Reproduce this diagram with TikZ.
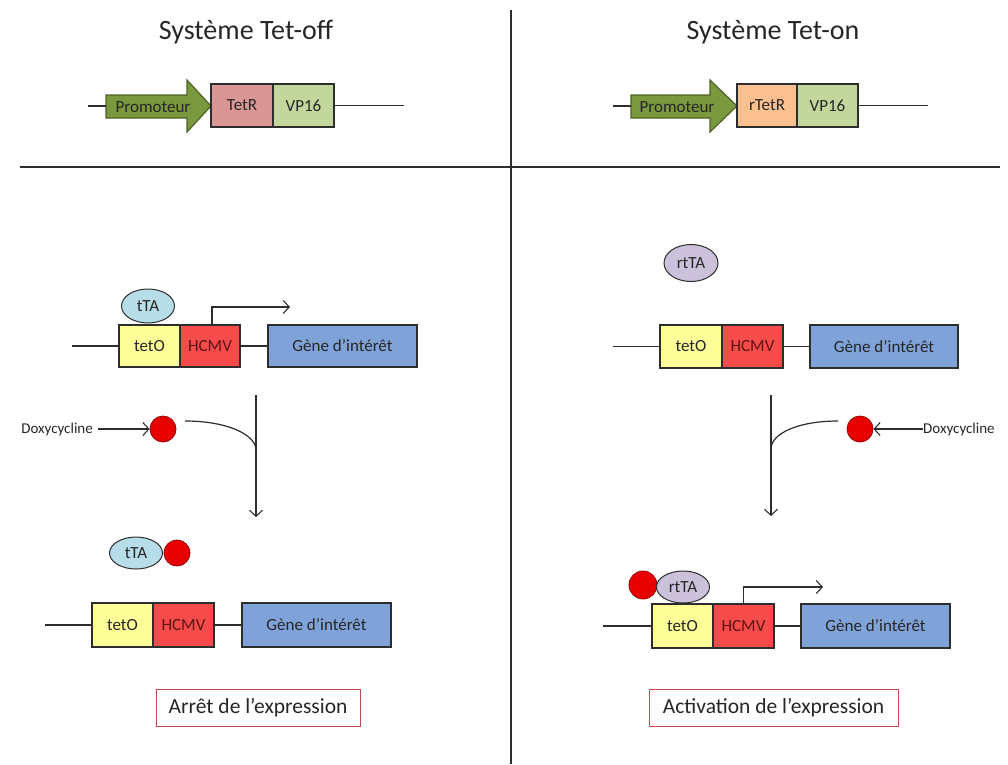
\documentclass[tikz,border=0pt]{standalone}
\usepackage{fontspec}
\setmainfont{Carlito}
\usetikzlibrary{arrows.meta,shapes.geometric}
\definecolor{promofill}{RGB}{122,152,62}
\definecolor{promodraw}{RGB}{79,98,40}
\definecolor{tetrc}{RGB}{217,150,148}
\definecolor{rtetrc}{RGB}{250,192,144}
\definecolor{vpc}{RGB}{195,214,155}
\definecolor{tetoc}{RGB}{255,255,153}
\definecolor{hcmvc}{RGB}{245,75,75}
\definecolor{genec}{RGB}{127,163,216}
\definecolor{ttac}{RGB}{183,221,232}
\definecolor{rttac}{RGB}{204,193,218}
\definecolor{doxfill}{RGB}{232,0,0}
\definecolor{doxdraw}{RGB}{150,0,0}
\definecolor{resc}{RGB}{192,80,77}
\definecolor{edge}{RGB}{45,45,45}
\definecolor{txt}{RGB}{38,38,38}
\definecolor{hcmvtxt}{RGB}{95,20,20}
\begin{document}
\begin{tikzpicture}[x=1pt,y=-1pt,
  seg/.style={draw=edge, line width=1.3pt, minimum height=43, inner sep=0pt, outer sep=0pt,
    font=\fontsize{17}{20}\selectfont, text=txt, anchor=north west},
  ln/.style={draw=edge, line width=1.2pt},
  arr/.style={ln, -{Straight Barb[length=6pt,width=13pt,line width=1.1pt]}},
  prot/.style={ellipse, draw=edge, line width=1pt, inner sep=0pt, minimum width=53, minimum height=33,
    font=\fontsize{17}{20}\selectfont, text=txt},
  doxo/.style={circle, draw=doxdraw, fill=doxfill, line width=0.8pt, minimum size=26, inner sep=0pt},
  result/.style={draw=resc, line width=1pt, minimum height=37, inner sep=0pt,
    font=\fontsize{21.5}{25}\selectfont, text=txt},
  titletxt/.style={font=\fontsize{28}{33}\selectfont, text=txt},
  small/.style={font=\fontsize{15}{18}\selectfont, text=txt, inner sep=0pt},
  promo/.style={draw=promodraw, fill=promofill, line width=1.2pt, line join=miter}
]
\useasboundingbox (0,0) rectangle (1008,764);

% dividers
\coordinate (vtop) at (511,10);
\coordinate (vbot) at (511,764);
\coordinate (hl) at (20,167);
\coordinate (hr) at (1000,167);
\draw[ln, line width=1.3pt] (vtop) -- (vbot);
\draw[ln, line width=1.3pt] (hl) -- (hr);

% titles
\node[titletxt] (titleL) at (246,32) {Système Tet-off};
\node[titletxt] (titleR) at (773,32) {Système Tet-on};

% ===== top left construct
\draw[promo] (106,95) -- (187,95) -- (187,80) -- (211,106) -- (187,132) -- (187,118) -- (106,118) -- cycle;
\coordinate (promAback) at (106,106);
\node[small, font=\fontsize{17}{20}\selectfont] (promA) at (153,107) {Promoteur};
\node[seg, fill=tetrc, minimum width=62] (tetr) at (211,84) {TetR};
\node[seg, fill=vpc, minimum width=61] (vpA) at (tetr.north east) {VP16};
\coordinate (lineA0) at (88,106);
\coordinate (lineA1) at (404,105.5);
\draw[ln] (lineA0) -- (promAback);
\draw[ln] (vpA.east) -- (lineA1);

% ===== top right construct
\draw[promo] (631,95) -- (710,95) -- (710,80) -- (737,106) -- (710,132) -- (710,118) -- (631,118) -- cycle;
\coordinate (promBback) at (631,106);
\node[small, font=\fontsize{17}{20}\selectfont] (promB) at (677,107) {Promoteur};
\node[seg, fill=rtetrc, minimum width=60] (rtetr) at (737,84) {rTetR};
\node[seg, fill=vpc, minimum width=61] (vpB) at (rtetr.north east) {VP16};
\coordinate (lineB0) at (613,106);
\coordinate (lineB1) at (928,105.5);
\draw[ln] (lineB0) -- (promBback);
\draw[ln] (vpB.east) -- (lineB1);

% ===== middle left
\node[seg, fill=tetoc, minimum width=61, minimum height=42] (tetoA) at (119,325) {tetO};
\node[seg, fill=hcmvc, minimum width=60, minimum height=42, text=hcmvtxt] (hcmvA) at (tetoA.north east) {HCMV};
\node[seg, fill=genec, minimum width=149, minimum height=42] (geneA) at (268,325) {Gène d’intérêt};
\coordinate (lA) at (72,346);
\draw[ln] (lA) -- (tetoA.west);
\draw[ln] (hcmvA.east) -- (geneA.west);
\node[prot, fill=ttac, minimum height=34] (ttaA) at (148,306) {tTA};
\coordinate (trA) at (290,307);
\draw[arr] ([xshift=2pt]hcmvA.north) |- (trA);

% ===== middle right
\node[prot, fill=rttac, minimum width=54, minimum height=37] (rttaB) at (691,263) {rtTA};
\node[seg, fill=tetoc, minimum width=62] (tetoB) at (660,325) {tetO};
\node[seg, fill=hcmvc, minimum width=61, text=hcmvtxt] (hcmvB) at (tetoB.north east) {HCMV};
\node[seg, fill=genec, minimum width=148] (geneB) at (810,325) {Gène d’intérêt};
\coordinate (lB) at (613,346.5);
\draw[ln] (lB) -- (tetoB.west);
\draw[ln] (hcmvB.east) -- (geneB.west);

% ===== doxycycline left
\node[small, anchor=east] (doxLtxt) at (93,429) {Doxycycline};
\node[doxo] (doxL) at (163,429) {};
\draw[arr] (doxLtxt.east) ++(5,0) coordinate (doxLs) -- (doxL.west);
\coordinate (vLtop) at (256,395);
\coordinate (vLbot) at (256,517);
\coordinate (vLmid) at (256,450);
\coordinate (cLs) at (185,421);
\draw[arr] (vLtop) -- (vLbot);
\draw[ln] (cLs) .. controls (228,421) and (256,435) .. (vLmid);

% ===== doxycycline right
\node[small, anchor=west] (doxRtxt) at (923,429) {Doxycycline};
\node[doxo] (doxR) at (860,429) {};
\draw[arr] (doxRtxt.west) -- (doxR.east);
\coordinate (vRtop) at (771,395);
\coordinate (vRbot) at (771,516);
\coordinate (vRmid) at (771,449);
\coordinate (cRs) at (838,421);
\draw[arr] (vRtop) -- (vRbot);
\draw[ln] (cRs) .. controls (797,421) and (771,434) .. (vRmid);

% ===== bottom left
\node[prot, fill=ttac, minimum width=53, minimum height=32] (ttaC) at (136,553) {tTA};
\node[doxo] (doxC) at (177,553) {};
\node[seg, fill=tetoc, minimum width=61, minimum height=44] (tetoC) at (92,603) {tetO};
\node[seg, fill=hcmvc, minimum width=61, minimum height=44, text=hcmvtxt] (hcmvC) at (tetoC.north east) {HCMV};
\node[seg, fill=genec, minimum width=149, minimum height=44] (geneC) at (242,603) {Gène d’intérêt};
\coordinate (lC) at (45,625);
\draw[ln] (lC) -- (tetoC.west);
\draw[ln] (hcmvC.east) -- (geneC.west);
\node[result, minimum width=204] (resL) at (258,707.5) {Arrêt de l’expression};

% ===== bottom right
\node[doxo, minimum size=28] (doxD) at (643,585) {};
\node[prot, fill=rttac, minimum width=53, minimum height=32] (rttaD) at (683,587) {rtTA};
\node[seg, fill=tetoc, minimum width=61, minimum height=44] (tetoD) at (652,604) {tetO};
\node[seg, fill=hcmvc, minimum width=61, minimum height=44, text=hcmvtxt] (hcmvD) at (tetoD.north east) {HCMV};
\node[seg, fill=genec, minimum width=149, minimum height=44] (geneD) at (801,604) {Gène d’intérêt};
\coordinate (lD) at (603,626);
\draw[ln] (lD) -- (tetoD.west);
\draw[ln] (hcmvD.east) -- (geneD.west);
\coordinate (trD) at (823,587);
\draw[arr] (hcmvD.north) |- (trD);
\node[result, minimum width=249] (resR) at (773.5,707.5) {Activation de l’expression};
\end{tikzpicture}
\end{document}
